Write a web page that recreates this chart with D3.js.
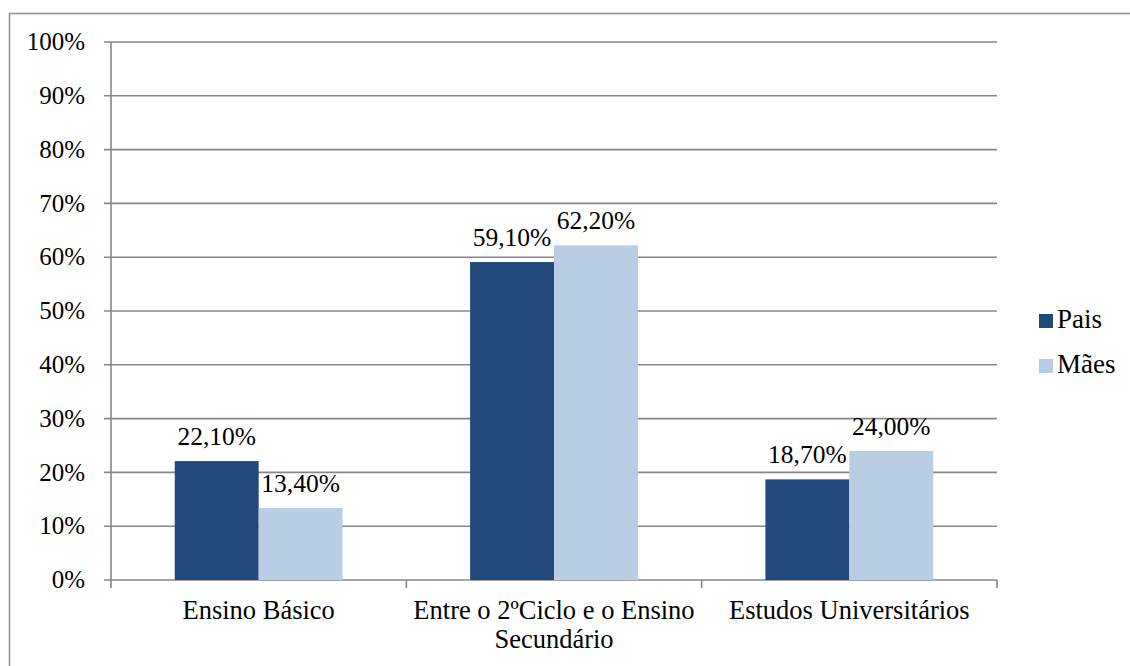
<!DOCTYPE html>
<html>
<head>
<meta charset="utf-8">
<script src="https://cdn.jsdelivr.net/npm/d3@7"></script>
<style>
  body { margin: 0; background: #fff; }
</style>
</head>
<body>
<div id="chart"></div>
<script>
// data
let categories = [['Ensino Básico'], ['Entre o 2ºCiclo e o Ensino', 'Secundário'], ['Estudos Universitários']];
let series = ['Pais', 'Mães'];
let pais = [0.221, 0.591, 0.187];
let maes = [0.134, 0.622, 0.240];
let colors = ['#214a7b', '#b9cde5'];

let width = 1130;
let height = 666;

let svg = d3.select('#chart').append('svg')
  .attr('width', width)
  .attr('height', height)
  .attr('font-family', 'Liberation Serif')
  .attr('fill', '#000');

// outer frame
svg.append('rect')
  .attr('x', 9.5).attr('y', 13.5)
  .attr('width', 1200).attr('height', 700)
  .attr('fill', 'none')
  .attr('stroke', '#8c8c8c')
  .attr('stroke-width', 1.5);

let y = d3.scaleLinear().domain([0, 1]).range([580, 42]);
let x = d3.scaleBand()
  .domain(categories.map((c, i) => i))
  .range([111, 997]);
let x1 = d3.scaleBand()
  .domain(series)
  .range([0, x.bandwidth()])
  .paddingOuter(0.76);

let ticks = d3.range(0, 1.0001, 0.1);

// gridlines
svg.append('g')
  .selectAll('line')
  .data(ticks)
  .enter()
  .append('line')
  .attr('x1', 104).attr('x2', 997)
  .attr('y1', d => y(d)).attr('y2', d => y(d))
  .attr('stroke', '#878787')
  .attr('stroke-width', 1.6);

// y axis line
svg.append('line')
  .attr('x1', 111).attr('x2', 111)
  .attr('y1', y(1)).attr('y2', y(0) + 8)
  .attr('stroke', '#878787')
  .attr('stroke-width', 1.6);

// x tick marks
svg.append('g')
  .selectAll('line')
  .data(d3.range(1, categories.length + 1))
  .enter()
  .append('line')
  .attr('x1', i => x.step() * i + 111).attr('x2', i => x.step() * i + 111)
  .attr('y1', y(0)).attr('y2', y(0) + 8)
  .attr('stroke', '#878787')
  .attr('stroke-width', 1.6);

// y tick labels
svg.append('g')
  .selectAll('text')
  .data(ticks)
  .enter()
  .append('text')
  .attr('x', 85)
  .attr('y', d => y(d))
  .attr('dy', '0.33em')
  .attr('text-anchor', 'end')
  .attr('font-size', 25)
  .text(d => Math.round(d * 100) + '%');

// bars
let groups = svg.append('g')
  .selectAll('g')
  .data(categories.map((c, i) => ({ i, values: [pais[i], maes[i]] })))
  .enter()
  .append('g')
  .attr('transform', d => `translate(${x(d.i)},0)`);

groups.selectAll('rect')
  .data(d => d.values.map((v, j) => ({ s: series[j], v, j })))
  .enter()
  .append('rect')
  .attr('x', d => x1(d.s))
  .attr('width', x1.bandwidth())
  .attr('y', d => y(d.v))
  .attr('height', d => y(0) - y(d.v))
  .attr('fill', d => colors[d.j]);

groups.selectAll('text')
  .data(d => d.values.map((v, j) => ({ s: series[j], v, j })))
  .enter()
  .append('text')
  .attr('x', d => x1(d.s) + x1.bandwidth() / 2)
  .attr('y', d => y(d.v) - 16)
  .attr('text-anchor', 'middle')
  .attr('font-size', 25.5)
  .text(d => (d.v * 100).toFixed(2).replace('.', ',') + '%');

// category labels
svg.append('g')
  .selectAll('text')
  .data(categories)
  .enter()
  .append('text')
  .attr('x', (d, i) => x(i) + x.bandwidth() / 2)
  .attr('y', 619)
  .attr('text-anchor', 'middle')
  .attr('font-size', 26.5)
  .each(function(d) {
    d3.select(this).selectAll('tspan')
      .data(d)
      .enter()
      .append('tspan')
      .attr('x', d3.select(this).attr('x'))
      .attr('dy', (l, k) => k === 0 ? 0 : 29)
      .text(l => l);
  });

// legend
let legend = svg.append('g')
  .selectAll('g')
  .data(series)
  .enter()
  .append('g')
  .attr('transform', (d, i) => `translate(1039,${314 + i * 45})`);

legend.append('rect')
  .attr('width', 14).attr('height', 14)
  .attr('fill', (d, i) => colors[i]);

legend.append('text')
  .attr('x', 18)
  .attr('y', 14)
  .attr('font-size', 27)
  .text(d => d);
</script>
</body>
</html>
